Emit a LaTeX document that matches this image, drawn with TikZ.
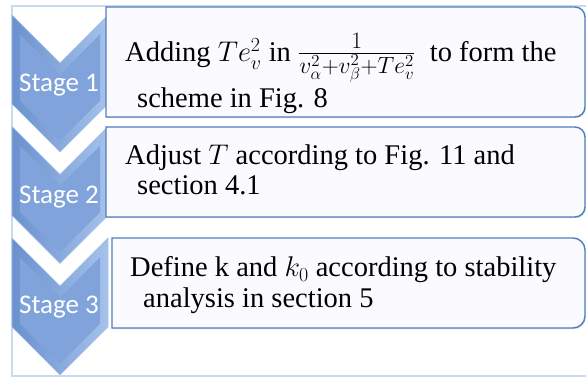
\RequirePackage{fix-cm}
\documentclass[tikz,border=0pt]{standalone}
\usepackage{fontspec}
\usepackage{graphicx}
\setmainfont{Liberation Serif}
\newfontfamily\stagefont{Carlito}
\usetikzlibrary{shadows}
\definecolor{frameblue}{HTML}{C9D9EE}
\definecolor{boxline}{HTML}{4F7FBF}
\definecolor{boxfill}{HTML}{FBFAFE}
\definecolor{chevA}{HTML}{6A91CD}
\definecolor{chevB}{HTML}{A6C2EB}
\definecolor{chevC}{HTML}{7FA3DA}
\begin{document}
\begin{tikzpicture}[x=1pt,y=1pt,
  chev/.style={left color=chevA, right color=chevB, draw=chevB, line width=0.6pt},
  chevinner/.style={fill=chevC},
  tbox/.style={fill=boxfill, draw=boxline, line width=1.4pt,
    drop shadow={opacity=0.25,shadow xshift=0.8pt,shadow yshift=-1.2pt}},
  stagelbl/.style={text=white, font=\stagefont\fontsize{27}{30}\selectfont, inner sep=0pt},
  body/.style={anchor=base west, inner sep=0pt, font=\fontsize{28.5}{34}\selectfont}]
\useasboundingbox (0,0) rectangle (586,377);
\fill[white] (0,0) rectangle (586,377);
\draw[frameblue, line width=1.5pt] (600,371) -- (12,371) -- (12,1) -- (600,1);
% chevrons
\foreach \Y in {362,250.5,139}{
  \path[chev] (12,\Y) -- (60,{\Y-48}) -- (108,\Y) -- (108,{\Y-89}) -- (60,{\Y-137}) -- (12,{\Y-89}) -- cycle;
  \path[chevinner] (20,{\Y-19.3}) -- (60,{\Y-59.3}) -- (100,{\Y-19.3}) -- (100,{\Y-85.7}) -- (60,{\Y-125.7}) -- (20,{\Y-85.7}) -- cycle;
}
% text boxes
\path[tbox] (106,370) -- (575,370) arc[start angle=90,end angle=0,radius=10] -- (585,270) arc[start angle=0,end angle=-90,radius=10] -- (106,260) -- cycle;
\path[tbox] (106,250) -- (575,250) arc[start angle=90,end angle=0,radius=10] -- (585,170) arc[start angle=0,end angle=-90,radius=10] -- (106,160) -- cycle;
\path[tbox] (112,139) -- (573,139) arc[start angle=90,end angle=0,radius=12] -- (585,61) arc[start angle=0,end angle=-90,radius=12] -- (112,49) -- cycle;
% stage labels
\node[stagelbl] (s1) at (59,292) {Stage 1};
\node[stagelbl] (s2) at (59,180) {Stage 2};
\node[stagelbl] (s3) at (59,70) {Stage 3};
% texts
\node[body] (t1a) at (125,315) {Adding $Te_v^2$ in \scalebox{1.18}{$\frac{1}{v_\alpha^2+v_\beta^2+Te_v^2}$}\ \ to form the};
\node[body] (t1b) at (137,269) {scheme in Fig. 8};
\node[body] (t2a) at (125,212) {Adjust $T$ according to Fig. 11 and};
\node[body] (t2b) at (137,182) {section 4.1};
\node[body] (t3a) at (130,100) {Define k and $k_0$ according to stability};
\node[body] (t3b) at (143,69) {analysis in section 5};
\end{tikzpicture}
\end{document}
